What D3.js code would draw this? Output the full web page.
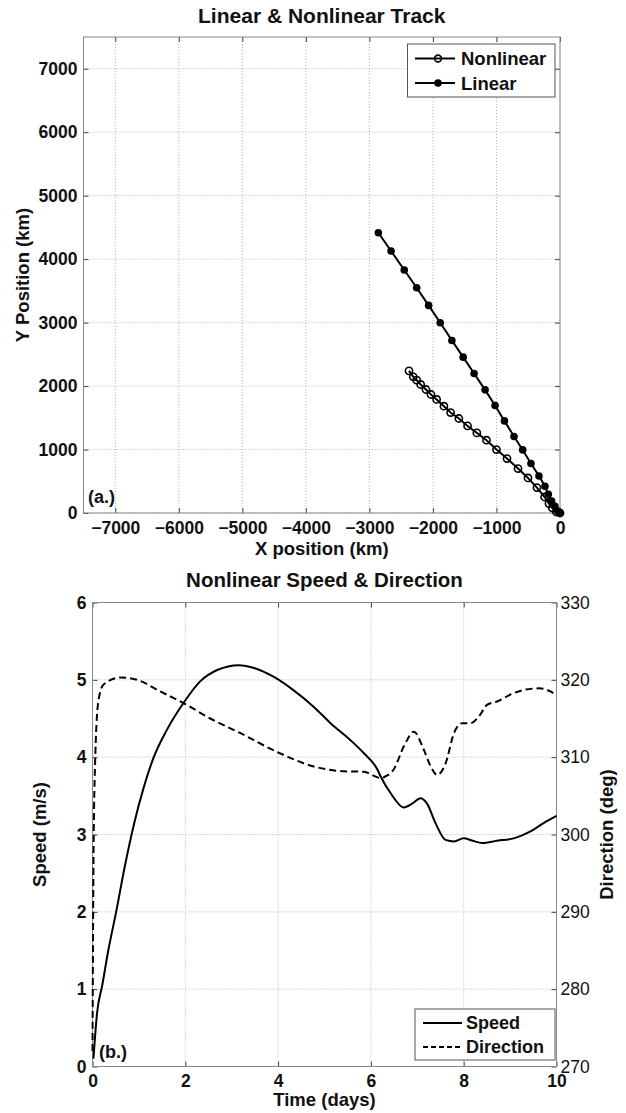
<!DOCTYPE html>
<html>
<head>
<meta charset="utf-8">
<script src="https://cdn.jsdelivr.net/npm/d3@7"></script>
<style>
  body { margin: 0; background: #fff; }
  text { font-family: "Liberation Sans", Arial, sans-serif; fill: #111; }
</style>
</head>
<body>
<script>
// --- data: panel (a) tracks, km ---
var nonlinX = [0, -58, -121, -174, -242, -363, -504, -661, -834, -1000, -1157, -1309, -1455, -1592, -1722, -1827, -1942, -2031, -2110, -2193, -2256, -2309, -2377];
var nonlinY = [0, 16, 79, 148, 252, 401, 552, 700, 858, 1000, 1147, 1262, 1372, 1489, 1583, 1683, 1789, 1867, 1946, 2025, 2093, 2145, 2240];
var linX = [0, -38, -80, -132, -184, -237, -331, -457, -587, -724, -874, -1022, -1179, -1352, -1524, -1702, -1885, -2068, -2256, -2451, -2659, -2859];
var linY = [0, 32, 106, 189, 295, 421, 584, 779, 994, 1205, 1451, 1694, 1940, 2199, 2456, 2719, 2997, 3271, 3549, 3828, 4128, 4416];

// --- data: panel (b) speed and direction vs time (days) ---
var speedT = [0.02, 0.1, 0.21, 0.34, 0.51, 0.7, 0.9, 1.1, 1.32, 1.6, 1.96, 2.32, 2.7, 3.15, 3.5, 3.9, 4.3, 4.77, 5.13, 5.56, 5.85, 6.14, 6.21, 6.43, 6.71, 6.89, 7.07, 7.21, 7.39, 7.61, 7.79, 8.0, 8.19, 8.4, 8.72, 9.08, 9.44, 9.73, 10];
var speedV = [0.1, 0.7, 1.05, 1.5, 2.0, 2.6, 3.15, 3.6, 4.0, 4.35, 4.7, 4.98, 5.13, 5.19, 5.15, 5.04, 4.88, 4.65, 4.44, 4.22, 4.05, 3.84, 3.75, 3.53, 3.35, 3.40, 3.47, 3.40, 3.15, 2.93, 2.91, 2.95, 2.92, 2.89, 2.92, 2.95, 3.04, 3.15, 3.24];
var dirT = [0, 0.01, 0.02, 0.06, 0.13, 0.24, 0.6, 0.96, 1.46, 1.96, 2.54, 3.19, 3.9, 4.77, 5.34, 5.85, 6.21, 6.31, 6.49, 6.71, 6.93, 7.11, 7.29, 7.43, 7.61, 7.79, 7.97, 8.15, 8.33, 8.51, 8.72, 9.01, 9.30, 9.62, 9.87, 10];
var dirV = [272, 285, 296, 310.1, 317.4, 319.4, 320.3, 320.0, 318.5, 317.0, 315.0, 313.1, 310.9, 308.8, 308.2, 308.1, 307.3, 307.5, 308.4, 311.4, 313.3, 311.4, 308.8, 307.7, 309.2, 313.1, 314.4, 314.4, 315.3, 316.8, 317.2, 318.1, 318.7, 318.9, 318.5, 317.9];

// --- tick values ---
var xTicksA = [-7000, -6000, -5000, -4000, -3000, -2000, -1000, 0];
var yTicksA = [0, 1000, 2000, 3000, 4000, 5000, 6000, 7000];
var xTicksB = [0, 2, 4, 6, 8, 10];
var yTicksB = [0, 1, 2, 3, 4, 5, 6];
var yTicksB2 = [270, 280, 290, 300, 310, 320, 330];

var svg = d3.select("body").append("svg").attr("width", 626).attr("height", 1113);
var fmt = d3.format("d");

function frame(x, y, x0, x1, y0, y1, xt, yt) {
  var g = svg.append("g");
  // dotted grid
  g.selectAll(".gx").data(xt).enter().append("line")
    .attr("x1", function(d){ return x(d); }).attr("x2", function(d){ return x(d); })
    .attr("y1", y0).attr("y2", y1)
    .attr("stroke", "#b4b4b4").attr("stroke-width", 1).attr("stroke-dasharray", "1,2");
  g.selectAll(".gy").data(yt).enter().append("line")
    .attr("y1", function(d){ return y(d); }).attr("y2", function(d){ return y(d); })
    .attr("x1", x0).attr("x2", x1)
    .attr("stroke", "#b4b4b4").attr("stroke-width", 1).attr("stroke-dasharray", "1,2");
  return g;
}

function box(x0, x1, y0, y1) {
  svg.append("rect").attr("x", x0).attr("y", y1).attr("width", x1 - x0).attr("height", y0 - y1)
    .attr("fill", "none").attr("stroke", "#888").attr("stroke-width", 1);
}

function styleAxis(g, bold) {
  g.select(".domain").remove();
  g.selectAll(".tick line").attr("stroke", "#444");
  g.selectAll(".tick text").style("font-size", "17.5px").style("font-weight", bold ? "bold" : "normal")
    .attr("fill", "#111");
}

// ================= panel (a) =================
var ax0 = 83.5, ax1 = 560, ay0 = 513, ay1 = 37;
var xA = d3.scaleLinear().domain([-7500, 0]).range([ax0, ax1]);
var yA = d3.scaleLinear().domain([0, 7500]).range([ay0, ay1]);

frame(xA, yA, ax0, ax1, ay0, ay1, xTicksA, yTicksA);

svg.append("g").attr("transform", "translate(0," + ay0 + ")")
  .call(d3.axisBottom(xA).tickValues(xTicksA).tickSize(-5).tickPadding(9).tickFormat(fmt))
  .call(function(g){ styleAxis(g, true); });
svg.append("g").attr("transform", "translate(0," + ay1 + ")")
  .call(d3.axisTop(xA).tickValues(xTicksA).tickSize(-5).tickFormat(""))
  .call(function(g){ styleAxis(g, true); });
svg.append("g").attr("transform", "translate(" + ax0 + ",0)")
  .call(d3.axisLeft(yA).tickValues(yTicksA).tickSize(-5).tickPadding(6).tickFormat(fmt))
  .call(function(g){ styleAxis(g, true); });
svg.append("g").attr("transform", "translate(" + ax1 + ",0)")
  .call(d3.axisRight(yA).tickValues(yTicksA).tickSize(-5).tickFormat(""))
  .call(function(g){ styleAxis(g, true); });
box(ax0, ax1, ay0, ay1);

var linePts = linX.map(function(d, i){ return [d, linY[i]]; });
var nonPts = nonlinX.map(function(d, i){ return [d, nonlinY[i]]; });
var trackLine = d3.line().x(function(d){ return xA(d[0]); }).y(function(d){ return yA(d[1]); });

svg.append("path").attr("d", trackLine(nonPts)).attr("fill", "none").attr("stroke", "#000").attr("stroke-width", 2);
svg.append("path").attr("d", trackLine(linePts)).attr("fill", "none").attr("stroke", "#000").attr("stroke-width", 2);
svg.selectAll(".nl").data(nonPts).enter().append("circle")
  .attr("cx", function(d){ return xA(d[0]); }).attr("cy", function(d){ return yA(d[1]); })
  .attr("r", 3.6).attr("fill", "none").attr("stroke", "#000").attr("stroke-width", 1.6);
svg.selectAll(".ln").data(linePts).enter().append("circle")
  .attr("cx", function(d){ return xA(d[0]); }).attr("cy", function(d){ return yA(d[1]); })
  .attr("r", 3.8).attr("fill", "#000");

// texts (a)
svg.append("text").attr("x", (ax0 + ax1) / 2).attr("y", 23).attr("text-anchor", "middle")
  .style("font-size", "21px").style("font-weight", "bold").text("Linear & Nonlinear Track");
svg.append("text").attr("x", (ax0 + ax1) / 2).attr("y", 555).attr("text-anchor", "middle")
  .style("font-size", "18.5px").style("font-weight", "bold").text("X position (km)");
svg.append("text").attr("transform", "translate(29," + (ay0 + ay1) / 2 + ") rotate(-90)").attr("text-anchor", "middle")
  .style("font-size", "18.5px").style("font-weight", "bold").text("Y Position (km)");
svg.append("text").attr("x", 88).attr("y", 503)
  .style("font-size", "18px").style("font-weight", "bold").text("(a.)");

// legend (a)
var legA = svg.append("g");
legA.append("rect").attr("x", 407.5).attr("y", 44).attr("width", 147.5).attr("height", 53)
  .attr("fill", "#fff").attr("stroke", "#555").attr("stroke-width", 1);
[["Nonlinear", 58.5, false], ["Linear", 83, true]].forEach(function(e){
  legA.append("line").attr("x1", 415).attr("x2", 455).attr("y1", e[1]).attr("y2", e[1])
    .attr("stroke", "#000").attr("stroke-width", 2);
  legA.append("circle").attr("cx", 438).attr("cy", e[1]).attr("r", e[2] ? 3.8 : 3.4)
    .attr("fill", e[2] ? "#000" : "none").attr("stroke", "#000").attr("stroke-width", e[2] ? 0 : 1.6);
  legA.append("text").attr("x", 461).attr("y", e[1]).attr("dy", "0.36em")
    .style("font-size", "18.5px").style("font-weight", "bold").text(e[0]);
});

// ================= panel (b) =================
var bx0 = 92.5, bx1 = 556.5, by0 = 1066.5, by1 = 602.5;
var xB = d3.scaleLinear().domain([0, 10]).range([bx0, bx1]);
var yB = d3.scaleLinear().domain([0, 6]).range([by0, by1]);
var yB2 = d3.scaleLinear().domain([270, 330]).range([by0, by1]);

frame(xB, yB, bx0, bx1, by0, by1, xTicksB, yTicksB);

svg.append("g").attr("transform", "translate(0," + by0 + ")")
  .call(d3.axisBottom(xB).tickValues(xTicksB).tickSize(-5).tickPadding(8).tickFormat(fmt))
  .call(function(g){ styleAxis(g, true); });
svg.append("g").attr("transform", "translate(0," + by1 + ")")
  .call(d3.axisTop(xB).tickValues(xTicksB).tickSize(-5).tickFormat(""))
  .call(function(g){ styleAxis(g, true); });
svg.append("g").attr("transform", "translate(" + bx0 + ",0)")
  .call(d3.axisLeft(yB).tickValues(yTicksB).tickSize(-5).tickPadding(6).tickFormat(fmt))
  .call(function(g){ styleAxis(g, true); });
svg.append("g").attr("transform", "translate(" + bx1 + ",0)")
  .call(d3.axisRight(yB2).tickValues(yTicksB2).tickSize(-5).tickPadding(4).tickFormat(fmt))
  .call(function(g){ styleAxis(g, false); });
box(bx0, bx1, by0, by1);

var spPts = speedT.map(function(d, i){ return [d, speedV[i]]; });
var drPts = dirT.map(function(d, i){ return [d, dirV[i]]; });
svg.append("path")
  .attr("d", d3.line().curve(d3.curveMonotoneX).x(function(d){ return xB(d[0]); }).y(function(d){ return yB(d[1]); })(spPts))
  .attr("fill", "none").attr("stroke", "#000").attr("stroke-width", 2);
svg.append("path")
  .attr("d", d3.line().curve(d3.curveMonotoneX).x(function(d){ return xB(d[0]); }).y(function(d){ return yB2(d[1]); })(drPts))
  .attr("fill", "none").attr("stroke", "#000").attr("stroke-width", 2).attr("stroke-dasharray", "7,4");

// texts (b)
svg.append("text").attr("x", (bx0 + bx1) / 2).attr("y", 587).attr("text-anchor", "middle")
  .style("font-size", "20.5px").style("font-weight", "bold").text("Nonlinear Speed & Direction");
svg.append("text").attr("x", (bx0 + bx1) / 2).attr("y", 1106).attr("text-anchor", "middle")
  .style("font-size", "18.5px").style("font-weight", "bold").text("Time (days)");
svg.append("text").attr("transform", "translate(46," + (by0 + by1) / 2 + ") rotate(-90)").attr("text-anchor", "middle")
  .style("font-size", "18.5px").style("font-weight", "bold").text("Speed (m/s)");
svg.append("text").attr("transform", "translate(613," + (by0 + by1) / 2 + ") rotate(-90)").attr("text-anchor", "middle")
  .style("font-size", "18.5px").style("font-weight", "bold").text("Direction (deg)");
svg.append("text").attr("x", 99).attr("y", 1058)
  .style("font-size", "18px").style("font-weight", "bold").text("(b.)");

// legend (b)
var legB = svg.append("g");
legB.append("rect").attr("x", 415).attr("y", 1009).attr("width", 140).attr("height", 51)
  .attr("fill", "#fff").attr("stroke", "#555").attr("stroke-width", 1);
[["Speed", 1023, null], ["Direction", 1047, "5,3"]].forEach(function(e){
  legB.append("line").attr("x1", 423).attr("x2", 462).attr("y1", e[1]).attr("y2", e[1])
    .attr("stroke", "#000").attr("stroke-width", 2).attr("stroke-dasharray", e[2]);
  legB.append("text").attr("x", 466).attr("y", e[1]).attr("dy", "0.36em")
    .style("font-size", "18px").style("font-weight", "bold").text(e[0]);
});
</script>
</body>
</html>
